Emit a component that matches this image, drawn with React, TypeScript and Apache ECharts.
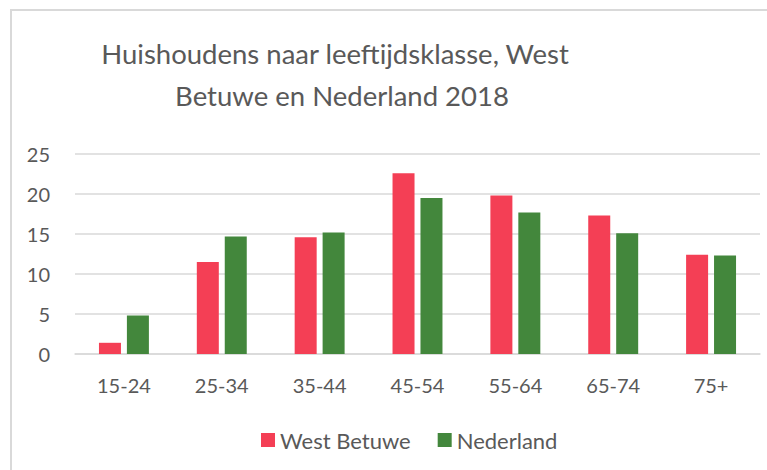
import React, { useEffect, useRef } from "react";
import * as echarts from "echarts";

const categories = ["15-24", "25-34", "35-44", "45-54", "55-64", "65-74", "75+"];
const westBetuwe = [1.4, 11.5, 14.6, 22.6, 19.8, 17.3, 12.4];
const nederland = [4.8, 14.7, 15.2, 19.5, 17.7, 15.1, 12.3];
const yTicks = { min: 0, max: 25, interval: 5 };
const titleLines = ["Huishoudens naar leeftijdsklasse, West", "Betuwe en Nederland 2018"];

const FONT = "Lato, 'Open Sans', sans-serif";
const TXT = "#595959";

export default function App() {
  const ref = useRef<HTMLDivElement>(null);
  useEffect(() => {
    if (!ref.current) return;
    const chart = echarts.init(ref.current, undefined, { renderer: "svg" });
    const titleStyle = { fontFamily: FONT, color: TXT, fontSize: 27.5, fontWeight: "normal", lineHeight: 42 };
    chart.setOption({
      animation: false,
      backgroundColor: "#ffffff",
      textStyle: { fontFamily: FONT, color: TXT },
      title: [
        { text: titleLines[0], left: 330, top: 27, textAlign: "center", textStyle: titleStyle },
        { text: titleLines[1], left: 337, top: 69, textAlign: "center", textStyle: titleStyle },
      ],
      graphic: [
        {
          type: "rect",
          shape: { x: 11, y: 10, width: 800, height: 500 },
          style: { fill: "none", stroke: "#d9d9d9", lineWidth: 2 },
          silent: true,
        },
      ],
      legend: {
        left: 256,
        top: 424,
        icon: "rect",
        itemWidth: 14,
        itemHeight: 14,
        itemGap: 27,
        textStyle: { fontFamily: FONT, color: TXT, fontSize: 22 },
        data: ["West Betuwe", "Nederland"],
      },
      grid: { left: 75, right: 7, top: 154, bottom: 116, containLabel: false },
      xAxis: {
        type: "category",
        data: categories,
        axisLine: { show: true, lineStyle: { color: "#d9d9d9", width: 1.5 } },
        axisTick: { show: false },
        axisLabel: { color: TXT, fontSize: 20, fontFamily: FONT, margin: 21 },
      },
      yAxis: {
        type: "value",
        min: yTicks.min,
        max: yTicks.max,
        interval: yTicks.interval,
        axisLine: { show: false },
        axisTick: { show: false },
        splitLine: { lineStyle: { color: "#d9d9d9", width: 1.5 } },
        axisLabel: { color: TXT, fontSize: 20, fontFamily: FONT, margin: 25 },
      },
      series: [
        {
          name: "West Betuwe",
          type: "bar",
          data: westBetuwe,
          barWidth: 22,
          barGap: "27%",
          itemStyle: { color: "#f43f55" },
        },
        {
          name: "Nederland",
          type: "bar",
          data: nederland,
          barWidth: 22,
          barGap: "27%",
          itemStyle: { color: "#43873c" },
        },
      ],
    });
    return () => chart.dispose();
  }, []);
  return (
    <div
      ref={ref}
      style={{ position: "fixed", left: 0, top: 0, width: 767, height: 470 }}
    />
  );
}
